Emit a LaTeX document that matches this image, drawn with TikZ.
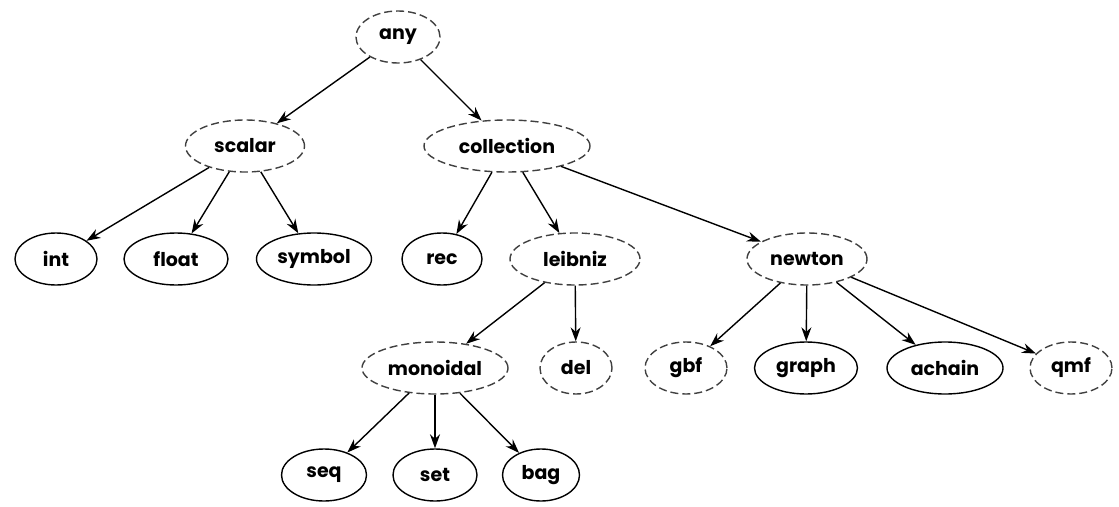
\documentclass[tikz,border=0pt]{standalone}
\usepackage{fontspec}
\setmainfont{Poppins}
\usetikzlibrary{shapes.geometric,arrows.meta}
\tikzset{
  tnode/.style={ellipse, draw, line width=1.4pt, inner sep=0pt, minimum height=52pt,
    font=\fontsize{19}{19}\selectfont\bfseries},
  abstract/.style={tnode, dash pattern=on 8pt off 4pt, draw=black!75},
  concrete/.style={tnode},
  edge/.style={-{Stealth[length=14pt,width=10pt]}, line width=1.4pt}
}
\begin{document}
\begin{tikzpicture}[x=1pt,y=-1pt]
\useasboundingbox (0,0) rectangle (1119,506);
% root and first level
\node[abstract, minimum width=84pt]  (any)        at (398,37)  {any};
\node[abstract, minimum width=119pt] (scalar)     at (245,146) {scalar};
\node[abstract, minimum width=166pt] (collection) at (507,146) {collection};
% second level
\node[concrete, minimum width=82pt]  (int)     at (56,259)  {int};
\node[concrete, minimum width=104pt] (float)   at (176,259) {float};
\node[concrete, minimum width=115pt] (symbol)  at (314,259) {symbol};
\node[concrete, minimum width=80pt]  (rec)     at (442,259) {rec};
\node[abstract, minimum width=130pt] (leibniz) at (575,259) {leibniz};
\node[abstract, minimum width=120pt] (newton)  at (807,259) {newton};
% third level
\node[abstract, minimum width=146pt] (monoidal) at (435,368) {monoidal};
\node[abstract, minimum width=72pt]  (del)      at (576,368) {del};
\node[abstract, minimum width=82pt]  (gbf)      at (686,368) {gbf};
\node[concrete, minimum width=103pt] (graph)    at (806,368) {graph};
\node[concrete, minimum width=116pt] (achain)   at (945,368) {achain};
\node[abstract, minimum width=82pt]  (qmf)      at (1071,368) {qmf};
% leaves
\node[concrete, minimum width=85pt] (seq) at (324,475) {seq};
\node[concrete, minimum width=84pt] (set) at (435,475) {set};
\node[concrete, minimum width=77pt] (bag) at (541,475) {bag};
% edges
\draw[edge] (any) -- (scalar);
\draw[edge] (any) -- (collection);
\draw[edge] (scalar) -- (int);
\draw[edge] (scalar) -- (float);
\draw[edge] (scalar) -- (symbol);
\draw[edge] (collection) -- (rec);
\draw[edge] (collection) -- (leibniz);
\draw[edge] (collection) -- (newton);
\draw[edge] (leibniz) -- (monoidal);
\draw[edge] (leibniz) -- (del);
\draw[edge] (newton) -- (gbf);
\draw[edge] (newton) -- (graph);
\draw[edge] (newton) -- (achain);
\draw[edge] (newton) -- (qmf);
\draw[edge] (monoidal) -- (seq);
\draw[edge] (monoidal) -- (set);
\draw[edge] (monoidal) -- (bag);
\end{tikzpicture}
\end{document}
